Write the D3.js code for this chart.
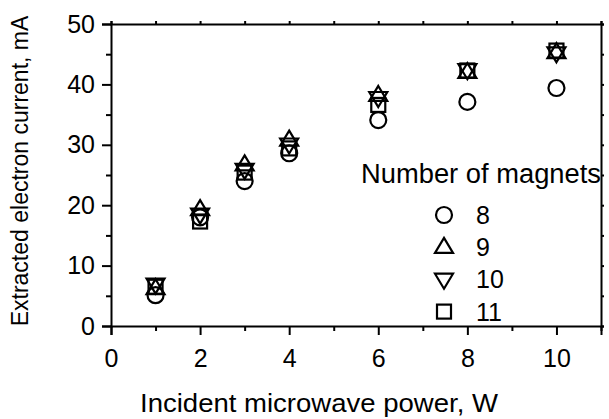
<!DOCTYPE html>
<html><head><meta charset="utf-8">
<script src="https://cdn.jsdelivr.net/npm/d3@7"></script>
<style>
html,body{margin:0;padding:0;background:#fff;}
svg{display:block;font-family:"Liberation Sans",Arial,sans-serif;}
</style></head>
<body>
<svg id="chart" width="609" height="419"></svg>
<script>
const powers = [1, 2, 3, 4, 6, 8, 10];
const magnets8  = [5.1, 18.0, 24.0, 28.6, 34.1, 37.1, 39.4];
const magnets9  = [6.2, 19.3, 26.7, 30.8, 38.2, 42.0, 45.3];
const magnets10 = [6.9, 18.5, 25.9, 30.1, 37.8, 42.4, 45.2];
const magnets11 = [6.5, 17.3, 25.4, 29.4, 36.6, 42.3, 45.6];
const seriesNames = ["8", "9", "10", "11"];
const seriesSymbols = ["circle", "up", "down", "square"];
const xTicks = [0, 2, 4, 6, 8, 10];
const yTicks = [0, 10, 20, 30, 40, 50];
const xTitle = "Incident microwave power, W";
const yTitle = "Extracted electron current, mA";
const legendTitle = "Number of magnets";

const svg = d3.select("#chart");
const L = 111, R = 601, T = 24, B = 326;
const x = d3.scaleLinear().domain([0, 11]).range([L, R]);
const y = d3.scaleLinear().domain([0, 50]).range([B, T]);

const series = [magnets8, magnets9, magnets10, magnets11];

function drawMarker(g, type, cx, cy) {
  const sw = 2.2;
  if (type === "circle") {
    g.append("circle").attr("cx", cx).attr("cy", cy).attr("r", 8).attr("fill", "none").attr("stroke", "#000").attr("stroke-width", sw);
  } else if (type === "up") {
    const h = 15, w = 18;
    g.append("path").attr("d", `M${cx},${cy - h*0.62}L${cx + w/2},${cy + h*0.38}L${cx - w/2},${cy + h*0.38}Z`)
      .attr("fill", "none").attr("stroke", "#000").attr("stroke-width", sw);
  } else if (type === "down") {
    const h = 15, w = 18;
    g.append("path").attr("d", `M${cx},${cy + h*0.62}L${cx + w/2},${cy - h*0.38}L${cx - w/2},${cy - h*0.38}Z`)
      .attr("fill", "none").attr("stroke", "#000").attr("stroke-width", sw);
  } else {
    const s = 14;
    g.append("rect").attr("x", cx - s/2).attr("y", cy - s/2).attr("width", s).attr("height", s)
      .attr("fill", "none").attr("stroke", "#000").attr("stroke-width", sw);
  }
}

// axes
svg.append("g").attr("transform", `translate(0,${B})`)
  .call(d3.axisBottom(x).tickValues(xTicks).tickSize(9).tickPadding(14).tickFormat(d3.format("d")));
svg.append("g").attr("transform", `translate(${L},0)`)
  .call(d3.axisLeft(y).tickValues(yTicks).tickSize(9).tickPadding(7).tickFormat(d3.format("d")));
svg.append("g").attr("transform", `translate(0,${T})`)
  .call(d3.axisTop(x).tickValues(d3.range(0, 12, 1)).tickSize(3).tickFormat(""));
svg.append("g").attr("transform", `translate(${R},0)`)
  .call(d3.axisRight(y).tickValues(d3.range(0, 55, 5)).tickSize(3).tickFormat(""));
// minor ticks
svg.append("g").attr("transform", `translate(0,${B})`)
  .call(d3.axisBottom(x).tickValues([1,3,5,7,9,11]).tickSize(5).tickFormat(""))
  .select(".domain").remove();
svg.append("g").attr("transform", `translate(${L},0)`)
  .call(d3.axisLeft(y).tickValues([5,15,25,35,45]).tickSize(5).tickFormat(""))
  .select(".domain").remove();

svg.selectAll(".domain").attr("stroke", "#000").attr("stroke-width", 2);
svg.selectAll(".tick line").attr("stroke", "#000").attr("stroke-width", 2);
svg.selectAll(".tick text").attr("font-size", 25).attr("fill", "#000")
  .attr("font-family", "Liberation Sans, Arial, sans-serif");

// titles
svg.append("text").attr("x", 319).attr("y", 412).attr("text-anchor", "middle")
  .attr("font-size", 26).attr("textLength", 358).attr("lengthAdjust", "spacingAndGlyphs").text(xTitle);
svg.append("text").attr("transform", `translate(28,171) rotate(-90)`)
  .attr("text-anchor", "middle").attr("font-size", 23).text(yTitle);

// data
const marks = svg.append("g");
series.forEach((vals, si) => {
  powers.forEach((p, i) => drawMarker(marks, seriesSymbols[si], x(p), y(vals[i])));
});

// legend
const lg = svg.append("g");
lg.append("text").attr("x", 361).attr("y", 183).attr("font-size", 27).attr("textLength", 240)
  .attr("lengthAdjust", "spacingAndGlyphs").text(legendTitle);
seriesNames.forEach((n, i) => {
  const cy = 215 + i * 32.2;
  drawMarker(lg, seriesSymbols[i], 444, cy);
  lg.append("text").attr("x", 476).attr("y", cy + 9).attr("font-size", 25).text(n);
});
</script>
</body></html>
